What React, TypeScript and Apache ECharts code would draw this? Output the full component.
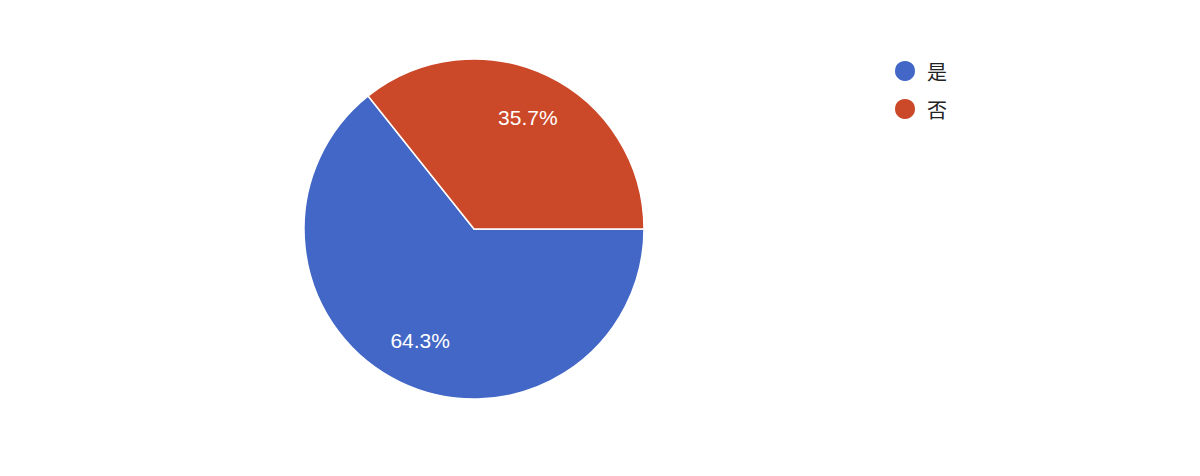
import React, { useEffect, useRef } from "react";
import * as echarts from "echarts";

const categories = ["是", "否"];
const values = [64.3, 35.7];
const colors = ["#4267C6", "#CB4829"];

export default function App() {
  const ref = useRef<HTMLDivElement>(null);
  useEffect(() => {
    document.body.style.margin = "0";
    const chart = echarts.init(ref.current!, null, { renderer: "svg" });
    const data = categories.map((name, i) => ({
      name,
      value: values[i],
      itemStyle: { color: colors[i] },
    }));
    chart.setOption({
      animation: false,
      backgroundColor: "#ffffff",
      legend: {
        orient: "vertical",
        left: 888,
        top: 54,
        icon: "circle",
        itemWidth: 22,
        itemHeight: 22,
        itemGap: 14,
        data: categories,
        textStyle: {
          fontSize: 20,
          color: "#222222",
          fontFamily: "'Noto Sans CJK SC', sans-serif",
          padding: [0, 0, 0, 6],
        },
      },
      series: [
        {
          type: "pie",
          center: [474, 229],
          radius: [0, 170],
          startAngle: 0,
          clockwise: true,
          data,
          label: { show: false },
          labelLine: { show: false },
          itemStyle: { borderColor: "#ffffff", borderWidth: 1.5 },
          emphasis: { disabled: true },
        },
        {
          type: "pie",
          center: [474, 229],
          radius: [98, 144],
          startAngle: 0,
          clockwise: true,
          silent: true,
          legendHoverLink: false,
          data: categories.map((name, i) => ({
            name,
            value: values[i],
            itemStyle: { color: "rgba(0,0,0,0)" },
          })),
          label: {
            show: true,
            position: "inside",
            formatter: "{c}%",
            color: "#ffffff",
            fontSize: 21,
            fontWeight: 500,
            fontFamily: "'Liberation Sans', Arial, sans-serif",
          },
          labelLine: { show: false },
          emphasis: { disabled: true },
        },
      ],
    });
    return () => chart.dispose();
  }, []);
  return <div ref={ref} style={{ width: 1200, height: 476 }} />;
}
